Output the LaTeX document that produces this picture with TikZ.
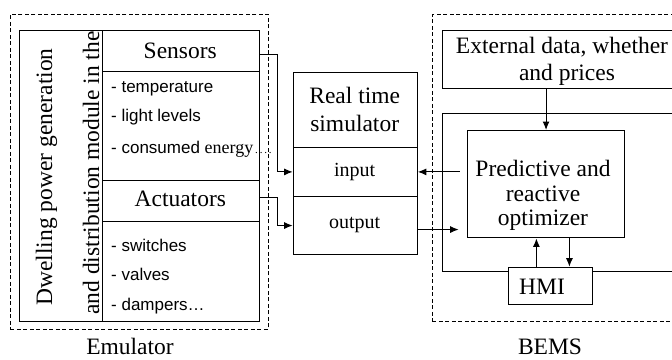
\documentclass[tikz,border=0pt]{standalone}
\usepackage{fontspec}
\setmainfont{Liberation Serif}
\setsansfont{Liberation Sans}
\usetikzlibrary{arrows.meta,calc}
\begin{document}
\begin{tikzpicture}[x=1pt,y=-1pt,
 box/.style={draw, line width=1.1pt, inner sep=0pt, anchor=north west},
 dbox/.style={draw, line width=0.9pt, dash pattern=on 4pt off 2.5pt, inner sep=0pt, anchor=north west},
 big/.style={font=\fontsize{23.5}{25}\selectfont},
 mid/.style={font=\fontsize{20}{22}\selectfont},
 lst/.style={font=\sffamily\fontsize{17}{19}\selectfont, anchor=base west, inner sep=0pt},
 lbl/.style={anchor=base, inner sep=0pt},
 arr/.style={line width=1.1pt, -{Latex[length=8.5pt,width=7pt]}}
]
\useasboundingbox (0,0) rectangle (672,359);
\clip (0,0) rectangle (672,359);

% Emulator
\node[dbox, minimum width=258pt, minimum height=315pt] (emu) at (10,14) {};
\node[box, minimum width=82.7pt, minimum height=291pt] (dwell) at (19,30) {};
\node[box, minimum width=157.3pt, minimum height=41pt] (sh) at (101.7,30) {};
\node[box, minimum width=157.3pt, minimum height=109pt] (sl) at (101.7,71) {};
\node[box, minimum width=157.3pt, minimum height=41pt] (ah) at (101.7,180) {};
\node[box, minimum width=157.3pt, minimum height=100pt] (al) at (101.7,221) {};

\node[lbl, big, rotate=90] (v1) at (52,177) {Dwelling power generation};
\node[lbl, big, rotate=90] (v2) at (99,173) {and distribution module in the};
\node[lbl, big] (tsens) at (180.3,58.3) {Sensors};
\node[lbl, big] (tact) at (180.3,206) {Actuators};
\node[lst] (l1) at (111,92.7) {- temperature};
\node[lst] (l2) at (111,121.7) {- light levels};
\node[lst] (l3) at (111,153.3) {- consumed {\rmfamily\fontsize{18}{20}\selectfont energy}{\rmfamily\fontsize{11}{11}\selectfont\,.\,.\,.\,.}};
\node[lst] (l4) at (111,251) {- switches};
\node[lst] (l5) at (111,280.7) {- valves};
\node[lst] (l6) at (111,310) {- dampers\ldots};
\node[lbl, big] (emulbl) at (130,354) {Emulator};

% Real time simulator
\node[box, minimum width=124pt, minimum height=75pt] (rts) at (292.7,71.7) {};
\node[box, minimum width=124pt, minimum height=49.3pt] (in) at (292.7,146.7) {};
\node[box, minimum width=124pt, minimum height=58pt] (out) at (292.7,196) {};
\node[lbl, big] (rt1) at (354.7,103) {Real time};
\node[lbl, big] (rt2) at (354.7,131.7) {simulator};
\node[lbl, mid] (tin) at (354.7,176.7) {input};
\node[lbl, mid] (tout) at (354.7,228.3) {output};

% BEMS
\node[dbox, minimum width=270pt, minimum height=306.7pt] (bems) at (432,14) {};
\node[box, minimum width=244.3pt, minimum height=58pt] (ext) at (441.7,30) {};
\node[box, minimum width=260pt, minimum height=158pt] (core) at (441.7,112.7) {};
\node[box, minimum width=157.6pt, minimum height=107.3pt] (opt) at (466.7,130) {};
\node[box, fill=white, minimum width=83.7pt, minimum height=37.6pt] (hmi) at (508,266.7) {};
\node[lbl, big] (e1) at (562,53.3) {External data, whether};
\node[lbl, big] (e2) at (567,80) {and prices};
\node[lbl, big] (o1) at (543,176) {Predictive and};
\node[lbl, big] (o2) at (543,201) {reactive};
\node[lbl, big] (o3) at (543,225) {optimizer};
\node[lbl, big] (th) at (542,294) {HMI};
\node[lbl, big] (bemslbl) at (550,354) {BEMS};

% connectors
\draw[arr] ([yshift=-3pt]sh.east) -- ++(17,0) |- (in.west);
\draw[arr] ([yshift=4pt]ah.east) -- ++(17,0) |- (out.west);
\draw[arr, shorten <=7pt] (opt.west |- in.east) -- (in.east);
\draw[arr, shorten >=8pt] ([yshift=-4pt]out.east) -- ([yshift=-4pt]out.east -| opt.west);
\draw[arr] (opt.north |- ext.south) -- (opt.north);
\draw[arr] ([xshift=-14pt]hmi.north) -- ([xshift=-14pt]hmi.north |- opt.south);
\draw[arr] ([xshift=19pt]hmi.north |- opt.south) -- ([xshift=19pt]hmi.north);
\end{tikzpicture}
\end{document}
